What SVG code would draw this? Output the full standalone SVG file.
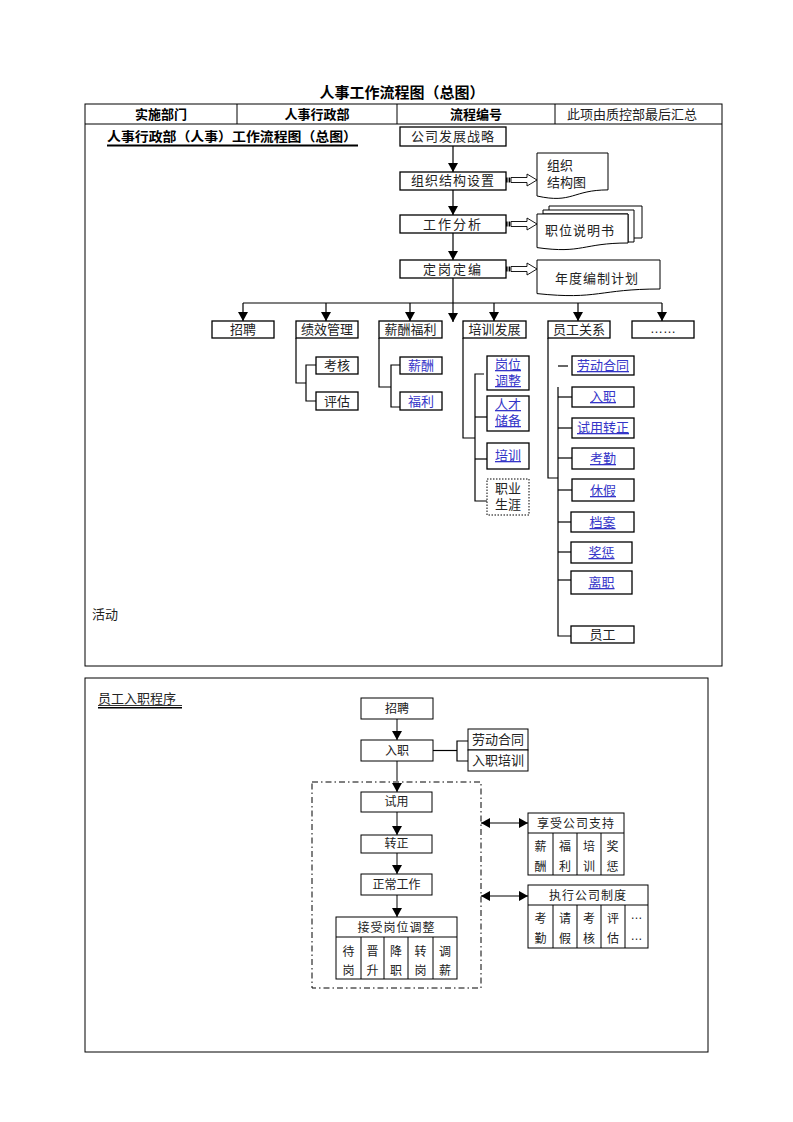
<svg xmlns="http://www.w3.org/2000/svg" width="793" height="1122" viewBox="0 0 793 1122">
<style>
.t{font-family:"Liberation Sans","Noto Sans CJK SC",sans-serif;font-size:13px;fill:#222;text-anchor:middle}
.s{font-size:12px}
.l{text-anchor:start}
.bd{font-weight:bold;fill:#000}
.bl{fill:#3535c8;text-decoration:underline}
.bx{fill:#fff;stroke:#000;stroke-width:1.3}
.tb{fill:#fff;stroke:#000;stroke-width:1}
.ln{fill:none;stroke:#000;stroke-width:1.2}
.ar{fill:none;stroke:#000;stroke-width:1.2;marker-end:url(#ah)}
.ga{fill:none;stroke:#808080;stroke-width:2;marker-end:url(#ah)}
.da{fill:none;stroke:#000;stroke-width:1.2;marker-end:url(#ah);marker-start:url(#ah)}
</style>
<defs>
<marker id="ah" markerWidth="9" markerHeight="10" refX="9" refY="5" orient="auto-start-reverse" markerUnits="userSpaceOnUse"><path d="M0,0 L9,5 L0,10 Z" fill="#000"/></marker>
<g id="sa"><rect x="0" y="-2.5" width="1.6" height="5" fill="#000"/><rect x="2.6" y="-2.5" width="1.6" height="5" fill="#000"/><path d="M5,-2.5 H21 V-6 L31,0 L21,6 V2.5 H5 Z" fill="#fff" stroke="#000" stroke-width="0.9"/></g>
</defs>

<text class="t bd" x="402" y="98" style="font-size:15px">人事工作流程图（总图）</text>

<g id="table">
<rect class="tb" x="85" y="104" width="637" height="562"/>
<line class="ln" x1="85" y1="124" x2="722" y2="124" style="stroke-width:1"/>
<line class="ln" x1="237" y1="104" x2="237" y2="124" style="stroke-width:1"/>
<line class="ln" x1="397" y1="104" x2="397" y2="124" style="stroke-width:1"/>
<line class="ln" x1="555" y1="104" x2="555" y2="124" style="stroke-width:1"/>
<text class="t bd" x="161" y="119">实施部门</text>
<text class="t bd" x="317" y="119">人事行政部</text>
<text class="t bd" x="476" y="119">流程编号</text>
<text class="t" x="632" y="119">此项由质控部最后汇总</text>
<text class="t bd l" x="107" y="141" textLength="250" lengthAdjust="spacingAndGlyphs">人事行政部（人事）工作流程图（总图）</text>
<line x1="107" y1="145.5" x2="358" y2="145.5" stroke="#000" stroke-width="1.8"/>
<text class="t l" x="92" y="619">活动</text>
</g>

<g id="lower">
<rect class="tb" x="85" y="678" width="623" height="374"/>
<text class="t l" x="98" y="703">员工入职程序</text>
<line x1="98" y1="705.5" x2="182" y2="705.5" stroke="#000" stroke-width="0.8"/>
<line x1="98" y1="707.8" x2="182" y2="707.8" stroke="#000" stroke-width="1.5"/>
<rect x="312" y="782" width="169" height="206" fill="none" stroke="#000" stroke-width="1" stroke-dasharray="6 3 1.5 3"/>
</g>

<g id="connectors">
<line class="ar" x1="453" y1="146" x2="453" y2="172"/>
<line class="ar" x1="453" y1="190" x2="453" y2="215"/>
<line class="ar" x1="453" y1="233" x2="453" y2="260"/>
<line class="ar" x1="453" y1="278" x2="453" y2="322"/>
<polyline class="ln" points="243,303 662,303"/>
<line class="ar" x1="243" y1="303" x2="243" y2="321"/>
<line class="ar" x1="326" y1="303" x2="326" y2="321"/>
<line class="ar" x1="410" y1="303" x2="410" y2="321"/>
<line class="ar" x1="494" y1="303" x2="494" y2="321"/>
<line class="ar" x1="578" y1="303" x2="578" y2="321"/>
<line class="ar" x1="662" y1="303" x2="662" y2="321"/>
<use href="#sa" x="506" y="180"/>
<use href="#sa" x="506" y="224"/>
<use href="#sa" x="506" y="269"/>
<polyline class="ln" points="296,338 296,383 306,383"/>
<polyline class="ln" points="316,365 306,365 306,401 316,401"/>
<polyline class="ln" points="379,338 379,387 391,387"/>
<polyline class="ln" points="400,365 391,365 391,407 400,407"/>
<polyline class="ln" points="463,338 463,438 475,438"/>
<polyline class="ln" points="484,374 475,374 475,501 487,501"/>
<line class="ln" x1="475" y1="417" x2="487" y2="417"/>
<line class="ln" x1="475" y1="459" x2="487" y2="459"/>
<polyline class="ln" points="548,338 548,478 558,478"/>
<line class="ln" x1="558" y1="366" x2="568" y2="366"/>
<polyline class="ln" points="558,387 558,636 571,636"/>
<line class="ln" x1="558" y1="397" x2="572" y2="397"/>
<line class="ln" x1="558" y1="428" x2="572" y2="428"/>
<line class="ln" x1="558" y1="458" x2="572" y2="458"/>
<line class="ln" x1="558" y1="490" x2="572" y2="490"/>
<line class="ln" x1="558" y1="522" x2="571" y2="522"/>
<line class="ln" x1="558" y1="552" x2="571" y2="552"/>
<line class="ln" x1="558" y1="580" x2="571" y2="580"/>
<line class="ga" x1="397" y1="719" x2="397" y2="740"/>
<line class="ga" x1="397" y1="761" x2="397" y2="792"/>
<line class="ga" x1="397" y1="812" x2="397" y2="835"/>
<line class="ga" x1="397" y1="853" x2="397" y2="874"/>
<line class="ga" x1="397" y1="895" x2="397" y2="917"/>
<line class="ln" x1="433" y1="750.5" x2="457" y2="750.5"/>
<polyline class="ln" points="468,741 457,741 457,761 468,761"/>
<line class="da" x1="481" y1="823" x2="528" y2="823"/>
<line class="da" x1="481" y1="896" x2="528" y2="896"/>
</g>

<g id="n-strategy"><rect class="bx" x="400" y="127" width="106" height="19"/><text class="t" x="453" y="141" letter-spacing="1">公司发展战略</text></g>
<g id="n-org"><rect class="bx" x="400" y="172" width="106" height="18"/><text class="t" x="453" y="185" letter-spacing="1">组织结构设置</text></g>
<g id="n-job"><rect class="bx" x="400" y="215" width="106" height="18"/><text class="t" x="453" y="229" letter-spacing="2">工作分析</text></g>
<g id="n-fix"><rect class="bx" x="400" y="260" width="106" height="18"/><text class="t" x="453" y="274" letter-spacing="2">定岗定编</text></g>

<g id="d-orgchart"><path class="tb" d="M537,153 H608 V189.9 C572.5,189.9 572.5,203.9 537,196 Z"/><text class="t l" x="547" y="170">组织</text><text class="t l" x="547" y="187">结构图</text></g>
<g id="d-jobdesc">
<polyline class="ln" style="stroke-width:1" points="549,210 549,206 642,206 642,238 634,238"/>
<polygon class="tb" points="543,214 543,210 634,210 634,242 628,242 628,214"/>
<path class="tb" d="M537,214 H628 V243 C582.5,243 582.5,254 537,247.6 Z"/>
<text class="t" x="580" y="235" letter-spacing="1">职位说明书</text></g>
<g id="d-plan"><path class="tb" d="M537,260 H660 V289 C598.5,289 598.5,300 537,293.6 Z"/><text class="t" x="597" y="283" letter-spacing="1">年度编制计划</text></g>

<g id="n-recruit"><rect class="bx" x="212" y="321" width="62" height="17"/><text class="t" x="243" y="334">招聘</text></g>
<g id="n-perf"><rect class="bx" x="296" y="321" width="62" height="17"/><text class="t" x="327" y="334">绩效管理</text></g>
<g id="n-pay"><rect class="bx" x="379" y="321" width="63" height="17"/><text class="t" x="410.5" y="334">薪酬福利</text></g>
<g id="n-train"><rect class="bx" x="463" y="321" width="63" height="17"/><text class="t" x="494.5" y="334">培训发展</text></g>
<g id="n-rel"><rect class="bx" x="548" y="321" width="62" height="17"/><text class="t" x="579" y="334">员工关系</text></g>
<g id="n-more"><rect class="bx" x="632" y="321" width="62" height="17"/><text class="t" x="663" y="333">……</text></g>

<g id="n-kh"><rect class="bx" x="316" y="357" width="42" height="17"/><text class="t" x="337" y="370">考核</text></g>
<g id="n-pg"><rect class="bx" x="316" y="392" width="42" height="18"/><text class="t" x="337" y="406">评估</text></g>
<g id="n-xc"><rect class="bx" x="400" y="357" width="42" height="17"/><text class="t" x="421" y="370" style="fill:#3535c8">薪酬</text></g>
<g id="n-fl"><rect class="bx" x="400" y="392" width="42" height="18"/><text class="t" x="421" y="406" style="fill:#3535c8">福利</text></g>

<g id="n-gwtz"><rect class="bx" x="487" y="356" width="42" height="34"/><text class="t bl" x="508" y="369">岗位</text><text class="t bl" x="508" y="385">调整</text></g>
<g id="n-rccb"><rect class="bx" x="487" y="396" width="42" height="35"/><text class="t bl" x="508" y="409">人才</text><text class="t bl" x="508" y="425">储备</text></g>
<g id="n-px"><rect class="bx" x="487" y="443" width="42" height="26"/><text class="t bl" x="508" y="460">培训</text></g>
<g id="n-zysy"><rect x="487" y="479" width="42" height="36" fill="#fff" stroke="#000" stroke-width="1" stroke-dasharray="1.5 1.5"/><text class="t" x="508" y="493">职业</text><text class="t" x="508" y="509">生涯</text></g>

<g id="n-ldht"><rect class="bx" x="572" y="356" width="62" height="19"/><text class="t bl" x="603" y="370">劳动合同</text></g>
<g id="n-rz"><rect class="bx" x="572" y="387" width="62" height="20"/><text class="t bl" x="603" y="401">入职</text></g>
<g id="n-syzz"><rect class="bx" x="572" y="418" width="62" height="20"/><text class="t bl" x="603" y="432">试用转正</text></g>
<g id="n-kq"><rect class="bx" x="572" y="448" width="62" height="21"/><text class="t bl" x="603" y="463">考勤</text></g>
<g id="n-xj"><rect class="bx" x="572" y="479" width="62" height="22"/><text class="t bl" x="603" y="495">休假</text></g>
<g id="n-da"><rect class="bx" x="571" y="512" width="63" height="20"/><text class="t bl" x="602.5" y="527">档案</text></g>
<g id="n-jc"><rect class="bx" x="571" y="542" width="61" height="21"/><text class="t bl" x="601.5" y="557">奖惩</text></g>
<g id="n-lz"><rect class="bx" x="571" y="571" width="61" height="23"/><text class="t bl" x="601.5" y="587">离职</text></g>
<g id="n-yg"><rect class="bx" x="571" y="626" width="63" height="17"/><text class="t" x="602.5" y="639">员工</text></g>

<g id="b-recruit"><rect class="tb" x="361" y="698" width="72" height="21"/><text class="t s" x="397" y="713">招聘</text></g>
<g id="b-entry"><rect class="tb" x="361" y="740" width="72" height="21"/><text class="t s" x="397" y="755">入职</text></g>
<g id="b-contract"><rect class="tb" x="468" y="729" width="60" height="21"/><text class="t" x="498" y="744">劳动合同</text></g>
<g id="b-training"><rect class="tb" x="468" y="750" width="60" height="21"/><text class="t" x="498" y="765">入职培训</text></g>
<g id="b-trial"><rect class="tb" x="361" y="792" width="71" height="20"/><text class="t s" x="396.5" y="806">试用</text></g>
<g id="b-regular"><rect class="tb" x="361" y="835" width="71" height="18"/><text class="t s" x="396.5" y="848">转正</text></g>
<g id="b-work"><rect class="tb" x="361" y="874" width="71" height="21"/><text class="t s" x="396.5" y="889">正常工作</text></g>

<g id="b-adjust">
<rect class="tb" x="336" y="917" width="121" height="62"/>
<line class="ln" style="stroke-width:1" x1="336" y1="937" x2="457" y2="937"/>
<line class="ln" style="stroke-width:1" x1="361" y1="937" x2="361" y2="979"/>
<line class="ln" style="stroke-width:1" x1="384" y1="937" x2="384" y2="979"/>
<line class="ln" style="stroke-width:1" x1="408" y1="937" x2="408" y2="979"/>
<line class="ln" style="stroke-width:1" x1="433" y1="937" x2="433" y2="979"/>
<text class="t s" x="396.5" y="932" letter-spacing="1">接受岗位调整</text>
<text class="t s" x="348.5" y="956">待</text><text class="t s" x="348.5" y="975">岗</text>
<text class="t s" x="372.5" y="956">晋</text><text class="t s" x="372.5" y="975">升</text>
<text class="t s" x="396" y="956">降</text><text class="t s" x="396" y="975">职</text>
<text class="t s" x="420.5" y="956">转</text><text class="t s" x="420.5" y="975">岗</text>
<text class="t s" x="445" y="956">调</text><text class="t s" x="445" y="975">薪</text>
</g>

<g id="b-support">
<rect class="tb" x="528" y="813" width="96" height="62"/>
<line class="ln" style="stroke-width:1" x1="528" y1="833" x2="624" y2="833"/>
<line class="ln" style="stroke-width:1" x1="553" y1="833" x2="553" y2="875"/>
<line class="ln" style="stroke-width:1" x1="577" y1="833" x2="577" y2="875"/>
<line class="ln" style="stroke-width:1" x1="601" y1="833" x2="601" y2="875"/>
<text class="t s" x="576" y="828" letter-spacing="1">享受公司支持</text>
<text class="t s" x="540.5" y="851">薪</text><text class="t s" x="540.5" y="871">酬</text>
<text class="t s" x="565" y="851">福</text><text class="t s" x="565" y="871">利</text>
<text class="t s" x="589" y="851">培</text><text class="t s" x="589" y="871">训</text>
<text class="t s" x="612.5" y="851">奖</text><text class="t s" x="612.5" y="871">惩</text>
</g>

<g id="b-rules">
<rect class="tb" x="528" y="885" width="120" height="63"/>
<line class="ln" style="stroke-width:1" x1="528" y1="905" x2="648" y2="905"/>
<line class="ln" style="stroke-width:1" x1="553" y1="905" x2="553" y2="948"/>
<line class="ln" style="stroke-width:1" x1="577" y1="905" x2="577" y2="948"/>
<line class="ln" style="stroke-width:1" x1="601" y1="905" x2="601" y2="948"/>
<line class="ln" style="stroke-width:1" x1="625" y1="905" x2="625" y2="948"/>
<text class="t s" x="588" y="900" letter-spacing="1">执行公司制度</text>
<text class="t s" x="540.5" y="923">考</text><text class="t s" x="540.5" y="943">勤</text>
<text class="t s" x="565" y="923">请</text><text class="t s" x="565" y="943">假</text>
<text class="t s" x="589" y="923">考</text><text class="t s" x="589" y="943">核</text>
<text class="t s" x="613" y="923">评</text><text class="t s" x="613" y="943">估</text>
<text class="t s" x="636.5" y="919">…</text><text class="t s" x="636.5" y="940">…</text>
</g>
</svg>
